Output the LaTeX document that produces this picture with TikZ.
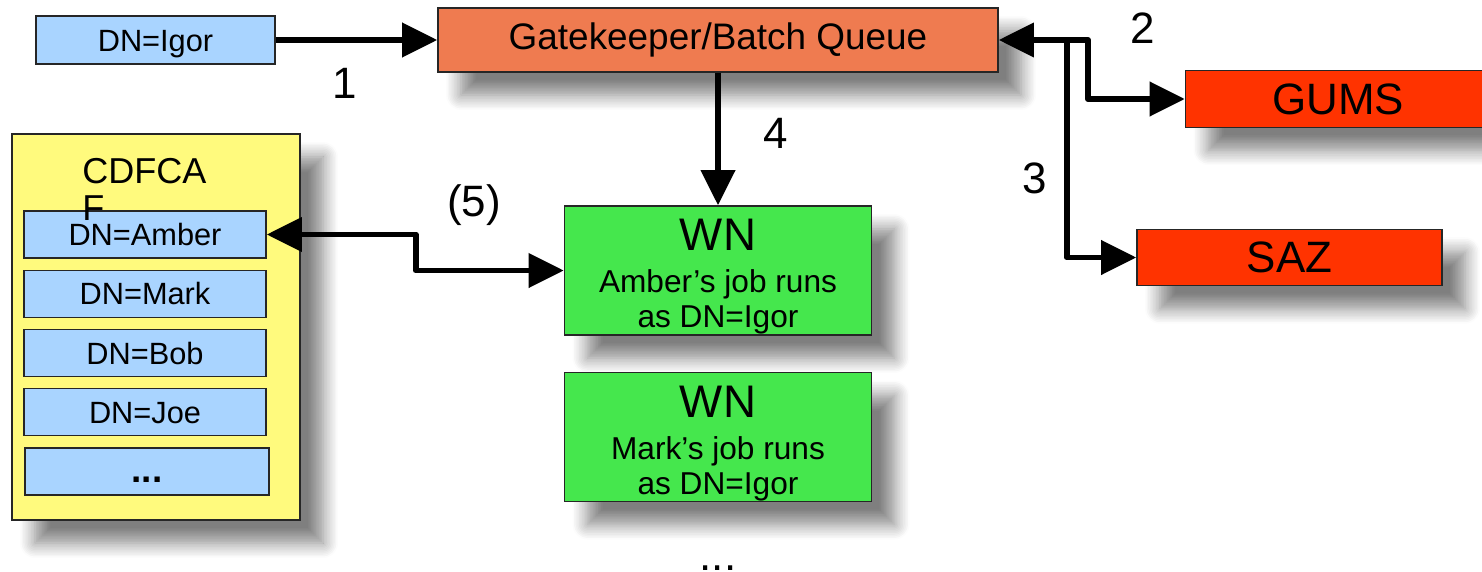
\documentclass[tikz,border=0pt]{standalone}
\usepackage{fontspec}
\setmainfont{Liberation Sans}
\usetikzlibrary{arrows.meta,shadows.blur}
\definecolor{dnblue}{HTML}{A9D4FF}
\definecolor{gkorange}{HTML}{EF7B50}
\definecolor{srvred}{HTML}{FF3300}
\definecolor{cayellow}{HTML}{FFFA7D}
\definecolor{wngreen}{HTML}{45E74D}

\begin{document}
\begin{tikzpicture}[x=1cm,y=1cm, every node/.style={font=\fontsize{17.5}{20}\selectfont},
    >={Triangle[length=20pt,width=19pt]},
    arr/.style={line width=3.4pt, line join=round},
    box/.style={draw=black!85, line width=0.8pt, inner sep=0pt},
    shade/.style={blur shadow={shadow xshift=0.46cm, shadow yshift=-0.46cm, shadow blur radius=0.3cm, shadow blur steps=10, shadow opacity=50}},
    dnbox/.style={box, fill=dnblue, minimum width=4.84cm, minimum height=0.94cm, text height=12.6pt, text depth=0pt},
    srvbox/.style={box, shade, fill=srvred, minimum width=6.1cm, minimum height=1.13cm, font=\fontsize{25}{30}\selectfont},
    wnbox/.style={box, shade, fill=wngreen, minimum width=6.14cm, minimum height=2.58cm, align=center, font=\fontsize{18}{20}\selectfont},
    lbl/.style={inner sep=0pt, font=\fontsize{25}{30}\selectfont}]
    \useasboundingbox (0,0) rectangle (29.64,11.42);
    % top row
    \node[dnbox, minimum width=4.78cm, minimum height=0.96cm] (igor) at (3.11,10.62) {DN=Igor};
    \node[box, shade, fill=gkorange, minimum width=11.2cm, minimum height=1.28cm, font=\fontsize{21}{24}\selectfont] (gk) at (14.36,10.62) {Gatekeeper/Batch Queue};
    \node[srvbox] (gums) at (26.76,9.44) {GUMS};
    \node[srvbox] (saz) at (25.79,6.27) {SAZ};
    % CA with its list
    \node[box, shade, fill=cayellow, minimum width=5.76cm, minimum height=7.72cm] (ca) at (3.12,4.88) {};
    \foreach \name/\who [count=\i] in {amber/Amber, mark/Mark, bob/Bob, joe/Joe}
        \node[dnbox] (\name) at (2.9,{6.73-1.185*(\i-1)}) {DN=\who};
    \node[dnbox, minimum width=4.88cm, font=\fontsize{21}{24}\bfseries] (more) at (2.94,1.99) {...};
    \node[anchor=north west, align=left, inner sep=0pt, font=\fontsize{20.5}{21}\selectfont] (catitle) at (1.64,8.26) {CDFCA\\F};
    % worker nodes
    \node[wnbox] (wn1) at (14.36,6.01) {{\fontsize{26}{26}\selectfont\rule{0pt}{25pt}WN}\\[4pt]Amber’s job runs\\as DN=Igor};
    \node[wnbox] (wn2) at (14.36,2.68) {{\fontsize{26}{26}\selectfont\rule{0pt}{25pt}WN}\\[4pt]Mark’s job runs\\as DN=Igor};
    \node[lbl, anchor=base] (wnmore) at (14.36,0.02) {...};
    % connectors
    \coordinate (j2) at (21.76,10.62);
    \coordinate (j3) at (21.34,10.62);
    \draw[arr, ->] (igor.east) -- (gk.west);
    \draw[arr, <->] (gk.east) -- (j2) |- (gums.west);
    \draw[arr, ->] (j3) |- (saz.west);
    \draw[arr, ->] (gk.south) -- (wn1.north);
    \draw[arr, <->] (amber.east) -- ++(2.98,0) |- (wn1.west);
    % step numbers
    \node[lbl] (n1) at (6.9,9.76) {1};
    \node[lbl] (n2) at (22.86,10.86) {2};
    \node[lbl] (n3) at (20.7,7.86) {3};
    \node[lbl] (n4) at (15.52,8.76) {4};
    \node[lbl] (n5) at (9.48,7.32) {(5)};
\end{tikzpicture}
\end{document}
